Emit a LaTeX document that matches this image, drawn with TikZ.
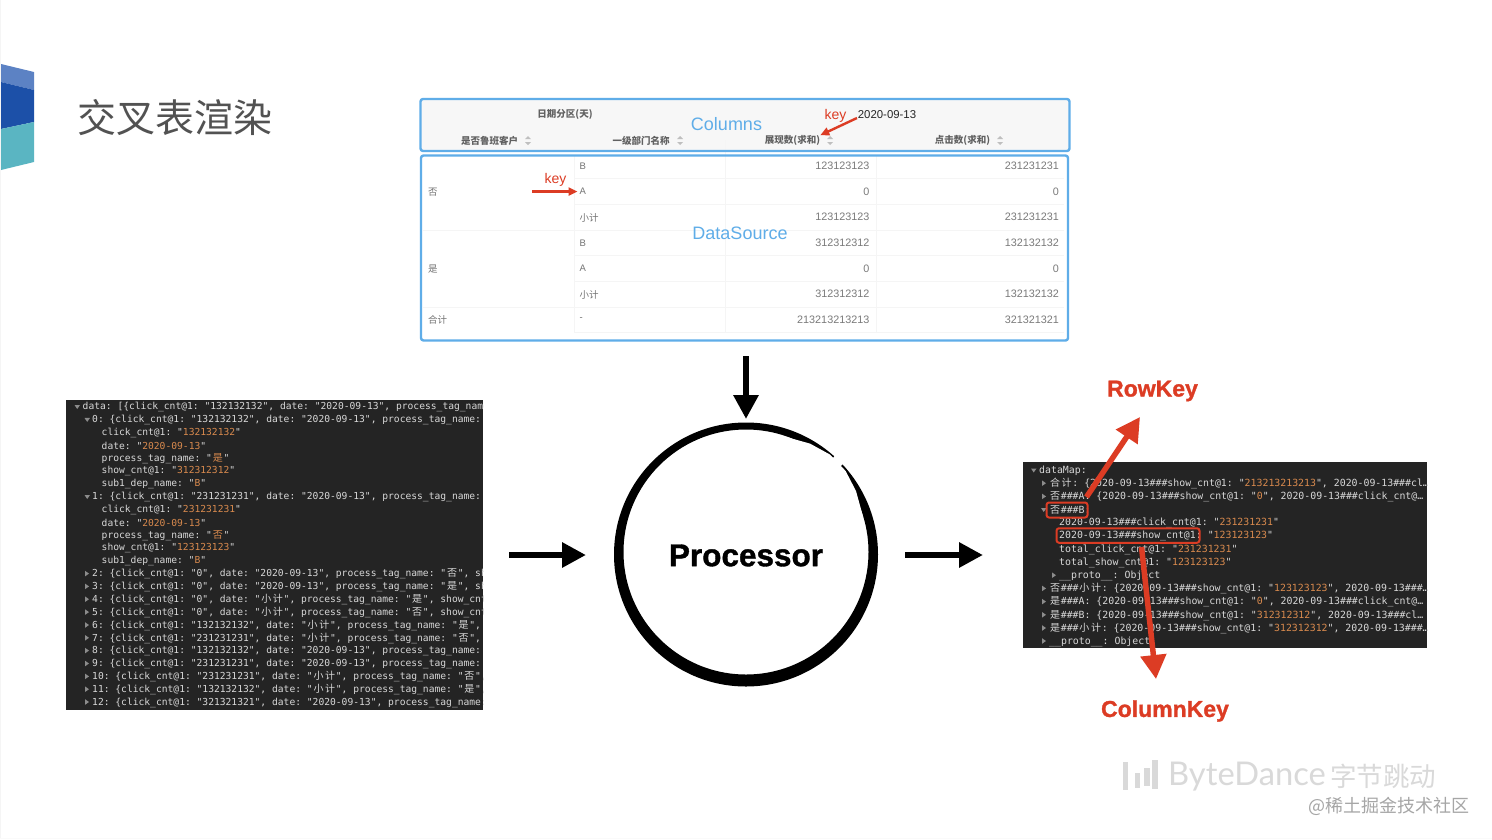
\documentclass[tikz,border=0pt]{standalone}
\usepackage{fontspec}
\setmainfont{Liberation Sans}
\setmonofont{DejaVu Sans Mono}
\newfontfamily\cjk{Noto Sans CJK SC}
\newfontfamily\heavy[FakeBold=1.2]{Liberation Sans Bold}
\newfontfamily\brandfont{Lato}
\usetikzlibrary{arrows.meta}
\definecolor{bluebox}{HTML}{5FADE8}
\definecolor{redmark}{HTML}{DC3C24}
\definecolor{consolebg}{HTML}{242424}
\definecolor{consoletext}{HTML}{D8D8D8}
\definecolor{consoleval}{HTML}{D98A4E}
\definecolor{cornertop}{HTML}{5C82C4}
\definecolor{cornermid}{HTML}{1C50A8}
\definecolor{cornerlow}{HTML}{5AB5C2}
\newcommand{\cn}[1]{\makebox[11.6pt]{\cjk\fontsize{10}{10}\selectfont #1}}
\newcommand{\vl}[1]{\textcolor{consoleval}{#1}}
\newcommand{\protoname}{\_\_proto\_\_}
\tikzset{
  cell/.style={anchor=west,inner sep=0pt,text=black!55,font=\fontsize{9.5}{10}\selectfont},
  cellzh/.style={cell,yshift=-0.5pt,font=\cjk\fontsize{9.5}{10}\selectfont},
  num/.style={anchor=east,inner sep=0pt,text=black!52,font=\fontsize{10.8}{11}\selectfont},
  head/.style={anchor=center,inner sep=0pt,text=black!62,font=\cjk\bfseries\fontsize{9.5}{10}\selectfont},
  datalabel/.style={anchor=center,inner sep=0pt,text=bluebox,font=\fontsize{18}{20}\selectfont},
  keylabel/.style={anchor=center,inner sep=0pt,yshift=-1pt,text=redmark,font=\fontsize{14}{16}\selectfont},
  bluerect/.style={draw=bluebox,line width=2.4pt,rounded corners=2.5pt},
  rowline/.style={draw=black!4,line width=0.8pt},
  logline/.style={anchor=west,inner sep=0pt,yshift=-0.5pt,text=consoletext,font=\ttfamily\fontsize{9.64}{10}\selectfont},
  mapline/.style={anchor=west,inner sep=0pt,yshift=-0.5pt,text=consoletext,font=\ttfamily\fontsize{9.87}{10}\selectfont},
  flow/.style={-{Triangle[length=24pt,width=24pt]},line width=6pt,black},
  redflow/.style={-{Triangle[length=24pt,width=25pt]},line width=5.5pt,redmark},
  thinred/.style={-{Triangle[length=9pt,width=8pt]},line width=2.4pt,redmark},
  keyname/.style={anchor=center,inner sep=0pt,yshift=-2pt,text=redmark,font=\heavy\fontsize{23}{25}\selectfont},
  redrect/.style={draw=redmark,line width=2pt,rounded corners=2.5pt},
}
\begin{document}
\begin{tikzpicture}[x=1pt,y=-1pt,line cap=butt,line join=round]
  \useasboundingbox (0,0) rectangle (1492,839);
  \fill[white] (0,0) rectangle (1492,839);
  \fill[black!4] (0,0) rectangle (1,839);
  \fill[black!2] (0,837.5) rectangle (1492,839);
  % slide corner
  \fill[cornertop] (1,64) -- (34,72) -- (34,90) -- (1,82) -- cycle;
  \fill[cornermid] (1,82) -- (34,90) -- (34,122) -- (1,129) -- cycle;
  \fill[cornerlow] (1,129) -- (34,122) -- (34,162) -- (1,170) -- cycle;
  \node[inner sep=0pt,anchor=center,text=black!68,font=\cjk\fontsize{39}{40}\selectfont] (title) at (175,118) {交叉表渲染};

  % table
  \fill[black!3] (421,99) rectangle (1069,151);
  \foreach \y in {178,204,230,255,281,307,332} \draw[rowline] (574,\y) -- (1064,\y);
  \draw[rowline] (423,230) -- (574,230);
  \draw[rowline] (423,307) -- (574,307);
  \draw[rowline] (574,156) -- (574,332);
  \draw[rowline] (725,140) -- (725,332);
  \draw[rowline] (876,156) -- (876,332);
  \node[bluerect,minimum width=649pt,minimum height=52pt,inner sep=0pt] (columns) at (745,125) {};
  \node[bluerect,minimum width=647pt,minimum height=185pt,inner sep=0pt] (source) at (744.5,248) {};
  \node[head] (h0) at (565,114.5) {日期分区(天)};
  \node[head,text=black!85,font=\fontsize{11.4}{12}\selectfont] (h1) at (887,114.5) {2020-09-13};
  \node[head] (h2) at (489.5,140.5) {是否鲁班客户};
  \node[head] (h3) at (641,140.5) {一级部门名称};
  \node[head] (h4) at (792.5,140.5) {展现数(求和)};
  \node[head] (h5) at (962.5,140.5) {点击数(求和)};
  \foreach \x in {528,680,830,1000} {
    \fill[black!25] (\x-3,139) -- (\x,136) -- (\x+3,139) -- cycle;
    \fill[black!25] (\x-3,142) -- (\x,145) -- (\x+3,142) -- cycle;
  }
  \node[cellzh] (r1) at (428,191.5) {否};
  \node[cellzh] (r2) at (428,268.5) {是};
  \node[cellzh] (r3) at (428,319.5) {合计};
  \node[cell] (d1) at (579.5,166) {B};
  \node[cell] (d2) at (579.5,191.5) {A};
  \node[cellzh] (d3) at (579.5,217) {小计};
  \node[cell] (d4) at (579.5,243) {B};
  \node[cell] (d5) at (579.5,268.5) {A};
  \node[cellzh] (d6) at (579.5,294) {小计};
  \node[cell] (d7) at (579.5,319.5) {-};
  \node[num] (a1) at (869.5,166) {123123123};
  \node[num] (a2) at (869.5,191.5) {0};
  \node[num] (a3) at (869.5,217) {123123123};
  \node[num] (a4) at (869.5,243) {312312312};
  \node[num] (a5) at (869.5,268.5) {0};
  \node[num] (a6) at (869.5,294) {312312312};
  \node[num] (a7) at (869.5,319.5) {213213213213};
  \node[num] (b1) at (1059,166) {231231231};
  \node[num] (b2) at (1059,191.5) {0};
  \node[num] (b3) at (1059,217) {231231231};
  \node[num] (b4) at (1059,243) {132132132};
  \node[num] (b5) at (1059,268.5) {0};
  \node[num] (b6) at (1059,294) {132132132};
  \node[num] (b7) at (1059,319.5) {321321321};
  \node[datalabel] (collabel) at (726.5,124.5) {Columns};
  \node[datalabel] (srclabel) at (740,233.5) {DataSource};
  \node[keylabel] (key1) at (835.5,115) {key};
  \node[keylabel] (key2) at (555.5,178.5) {key};
  \coordinate (key1from) at (857,118);
  \coordinate (key2from) at (532,191.5);
  \draw[thinred] (key1from) -- (h4.north east);
  \draw[thinred,shorten >=2pt] (key2from) -- (d2.west);

  % raw data
  \fill[consolebg] (66,400) rectangle (483,710);
  \begin{scope}
    \clip (66,400) rectangle (483,710);
    \node[logline] (l0) at (82.5,406.5) {data: [\{click\_cnt@1: "132132132", date: "2020-09-13", process\_tag\_name};
    \node[logline] (l1) at (92,419.4) {0: \{click\_cnt@1: "132132132", date: "2020-09-13", process\_tag\_name: "};
    \node[logline] (l2) at (101.5,432.2) {click\_cnt@1: "\vl{132132132}"};
    \node[logline] (l3) at (101.5,445) {date: "\vl{2020-09-13}"};
    \node[logline] (l4) at (101.5,457.9) {process\_tag\_name: "\vl{\cn{是}}"};
    \node[logline] (l5) at (101.5,470.8) {show\_cnt@1: "\vl{312312312}"};
    \node[logline] (l6) at (101.5,483.6) {sub1\_dep\_name: "\vl{B}"};
    \node[logline] (l7) at (92,496.5) {1: \{click\_cnt@1: "231231231", date: "2020-09-13", process\_tag\_name: "};
    \node[logline] (l8) at (101.5,509.3) {click\_cnt@1: "\vl{231231231}"};
    \node[logline] (l9) at (101.5,522.2) {date: "\vl{2020-09-13}"};
    \node[logline] (l10) at (101.5,535) {process\_tag\_name: "\vl{\cn{否}}"};
    \node[logline] (l11) at (101.5,547.9) {show\_cnt@1: "\vl{123123123}"};
    \node[logline] (l12) at (101.5,560.7) {sub1\_dep\_name: "\vl{B}"};
    \node[logline] (l13) at (92,573.6) {2: \{click\_cnt@1: "0", date: "2020-09-13", process\_tag\_name: "\cn{否}", show};
    \node[logline] (l14) at (92,586.4) {3: \{click\_cnt@1: "0", date: "2020-09-13", process\_tag\_name: "\cn{是}", show};
    \node[logline] (l15) at (92,599.2) {4: \{click\_cnt@1: "0", date: "\cn{小}\cn{计}", process\_tag\_name: "\cn{是}", show\_cnt@1};
    \node[logline] (l16) at (92,612.1) {5: \{click\_cnt@1: "0", date: "\cn{小}\cn{计}", process\_tag\_name: "\cn{否}", show\_cnt@1};
    \node[logline] (l17) at (92,625) {6: \{click\_cnt@1: "132132132", date: "\cn{小}\cn{计}", process\_tag\_name: "\cn{是}", show};
    \node[logline] (l18) at (92,637.8) {7: \{click\_cnt@1: "231231231", date: "\cn{小}\cn{计}", process\_tag\_name: "\cn{否}", show};
    \node[logline] (l19) at (92,650.6) {8: \{click\_cnt@1: "132132132", date: "2020-09-13", process\_tag\_name: "};
    \node[logline] (l20) at (92,663.5) {9: \{click\_cnt@1: "231231231", date: "2020-09-13", process\_tag\_name: "};
    \node[logline] (l21) at (92,676.4) {10: \{click\_cnt@1: "231231231", date: "\cn{小}\cn{计}", process\_tag\_name: "\cn{否}", };
    \node[logline] (l22) at (92,689.2) {11: \{click\_cnt@1: "132132132", date: "\cn{小}\cn{计}", process\_tag\_name: "\cn{是}", };
    \node[logline] (l23) at (92,702) {12: \{click\_cnt@1: "321321321", date: "2020-09-13", process\_tag\_name: "};
  \end{scope}
  \fill[black!45] (74.5,405) -- (80,405) -- (77.2,409) -- cycle;
  \foreach \y in {419.4,496.5} \fill[black!45] (84.5,\y-1.5) -- (90,\y-1.5) -- (87.2,\y+2.5) -- cycle;
  \foreach \y in {573.6,586.4,599.2,612.1,625,637.8,650.6,663.5,676.4,689.2,702} \fill[black!45] (85,\y-2.8) -- (89,\y) -- (85,\y+2.8) -- cycle;

  % processor
  \fill[black,even odd rule] (746,554.5) circle (132) (746,552) circle (122.5);
  \fill[white] (778.1,434.7) -- (810,443.6) -- (829.9,454.5) -- (845.6,470.9) -- (856,491) -- (863,516.5) -- (852.5,519.9) -- (825.2,475.3) -- (775,446.3) -- cycle;
  \fill[white] (836.3,454.2) -- (844.7,462.4) -- (833.8,472.7) -- (826.3,465.3) -- cycle;
  \node[circle,minimum size=264pt,inner sep=0pt,yshift=-1pt,font=\heavy\fontsize{31.5}{33}\selectfont] (proc) at (746,554.5) {Processor};
  \coordinate (topfrom) at (746,356);
  \coordinate (leftfrom) at (509,555);
  \coordinate (leftto) at (586,555);
  \coordinate (rightfrom) at (905,555);
  \coordinate (rightto) at (983,555);
  \coordinate (topto) at (746,419);
  \draw[flow] (topfrom) -- (topto);
  \draw[flow] (leftfrom) -- (leftto);
  \draw[flow] (rightfrom) -- (rightto);

  % data map
  \fill[consolebg] (1023,462) rectangle (1427,648);
  \begin{scope}
    \clip (1023,462) rectangle (1427,648);
    \node[mapline] (m0) at (1039,470) {dataMap:};
    \node[mapline] (m1) at (1049,483.2) {\cn{合}\cn{计}: \{2020-09-13\#\#\#show\_cnt@1: "\vl{213213213213}", 2020-09-13\#\#\#cl…};
    \node[mapline] (m2) at (1049,496.4) {\cn{否}\#\#\#A: \{2020-09-13\#\#\#show\_cnt@1: "\vl{0}", 2020-09-13\#\#\#click\_cnt@…};
    \node[mapline] (m3) at (1049,509.4) {\cn{否}\#\#\#B:};
    \node[mapline] (m4) at (1059,522.6) {2020-09-13\#\#\#click\_cnt@1: "\vl{231231231}"};
    \node[mapline] (m5) at (1059,535.8) {2020-09-13\#\#\#show\_cnt@1: "\vl{123123123}"};
    \node[mapline] (m6) at (1059,549) {total\_click\_cnt@1: "\vl{231231231}"};
    \node[mapline] (m7) at (1059,562) {total\_show\_cnt@1: "\vl{123123123}"};
    \node[mapline] (m8) at (1059,575.2) {\protoname: Object};
    \node[mapline] (m9) at (1049,588.4) {\cn{否}\#\#\#\cn{小}\cn{计}: \{2020-09-13\#\#\#show\_cnt@1: "\vl{123123123}", 2020-09-13\#\#\#…};
    \node[mapline] (m10) at (1049,601.6) {\cn{是}\#\#\#A: \{2020-09-13\#\#\#show\_cnt@1: "\vl{0}", 2020-09-13\#\#\#click\_cnt@…};
    \node[mapline] (m11) at (1049,614.8) {\cn{是}\#\#\#B: \{2020-09-13\#\#\#show\_cnt@1: "\vl{312312312}", 2020-09-13\#\#\#cl…};
    \node[mapline] (m12) at (1049,628) {\cn{是}\#\#\#\cn{小}\cn{计}: \{2020-09-13\#\#\#show\_cnt@1: "\vl{312312312}", 2020-09-13\#\#\#…};
    \node[mapline] (m13) at (1049,641) {\protoname: Object};
  \end{scope}
  \fill[black!45] (1031,468.5) -- (1036.5,468.5) -- (1033.7,472.5) -- cycle;
  \fill[black!45] (1041,508) -- (1046.5,508) -- (1043.7,512) -- cycle;
  \foreach \y in {483.2,496.4,588.4,601.6,614.8,628,641} \fill[black!45] (1042,\y-2.8) -- (1046,\y) -- (1042,\y+2.8) -- cycle;
  \fill[black!45] (1052,572.4) -- (1056,575.2) -- (1052,578) -- cycle;
  \node[redrect,minimum width=41pt,minimum height=15pt,inner sep=0pt] (rowbox) at (1067,510) {};
  \node[redrect,minimum width=143pt,minimum height=14.5pt,inner sep=0pt] (colbox) at (1128,535.5) {};
  \node[keyname] (rowkey) at (1152.5,389) {RowKey};
  \node[keyname] (colkey) at (1165,709) {ColumnKey};
  \coordinate (rowfrom) at (1086.5,497);
  \coordinate (rowto) at (1140,417);
  \coordinate (colfrom) at (1141.5,547);
  \coordinate (colto) at (1156,679);
  \draw[redflow] (rowfrom) -- (rowto);
  \draw[redflow] (colfrom) -- (colto);

  % footer
  \fill[black!15] (1122.5,762) rectangle (1128,790);
  \fill[black!15] (1135,773) rectangle (1140,788);
  \fill[black!15] (1143.5,768) rectangle (1149.5,786);
  \fill[black!15] (1152,760) rectangle (1158,789);
  \node[inner sep=0pt,anchor=west,text=black!15,font=\brandfont\fontsize{32.7}{36}\selectfont] (brand) at (1168,777) {ByteDance};
  \node[inner sep=0pt,anchor=west,text=black!15,font=\cjk\fontsize{26.5}{29}\selectfont] (brandzh) at (1330,776) {字节跳动};
  \node[inner sep=0pt,anchor=west,text=black!35,font=\cjk\fontsize{18}{21}\selectfont] (mark) at (1308,806) {@稀土掘金技术社区};
\end{tikzpicture}
\end{document}
